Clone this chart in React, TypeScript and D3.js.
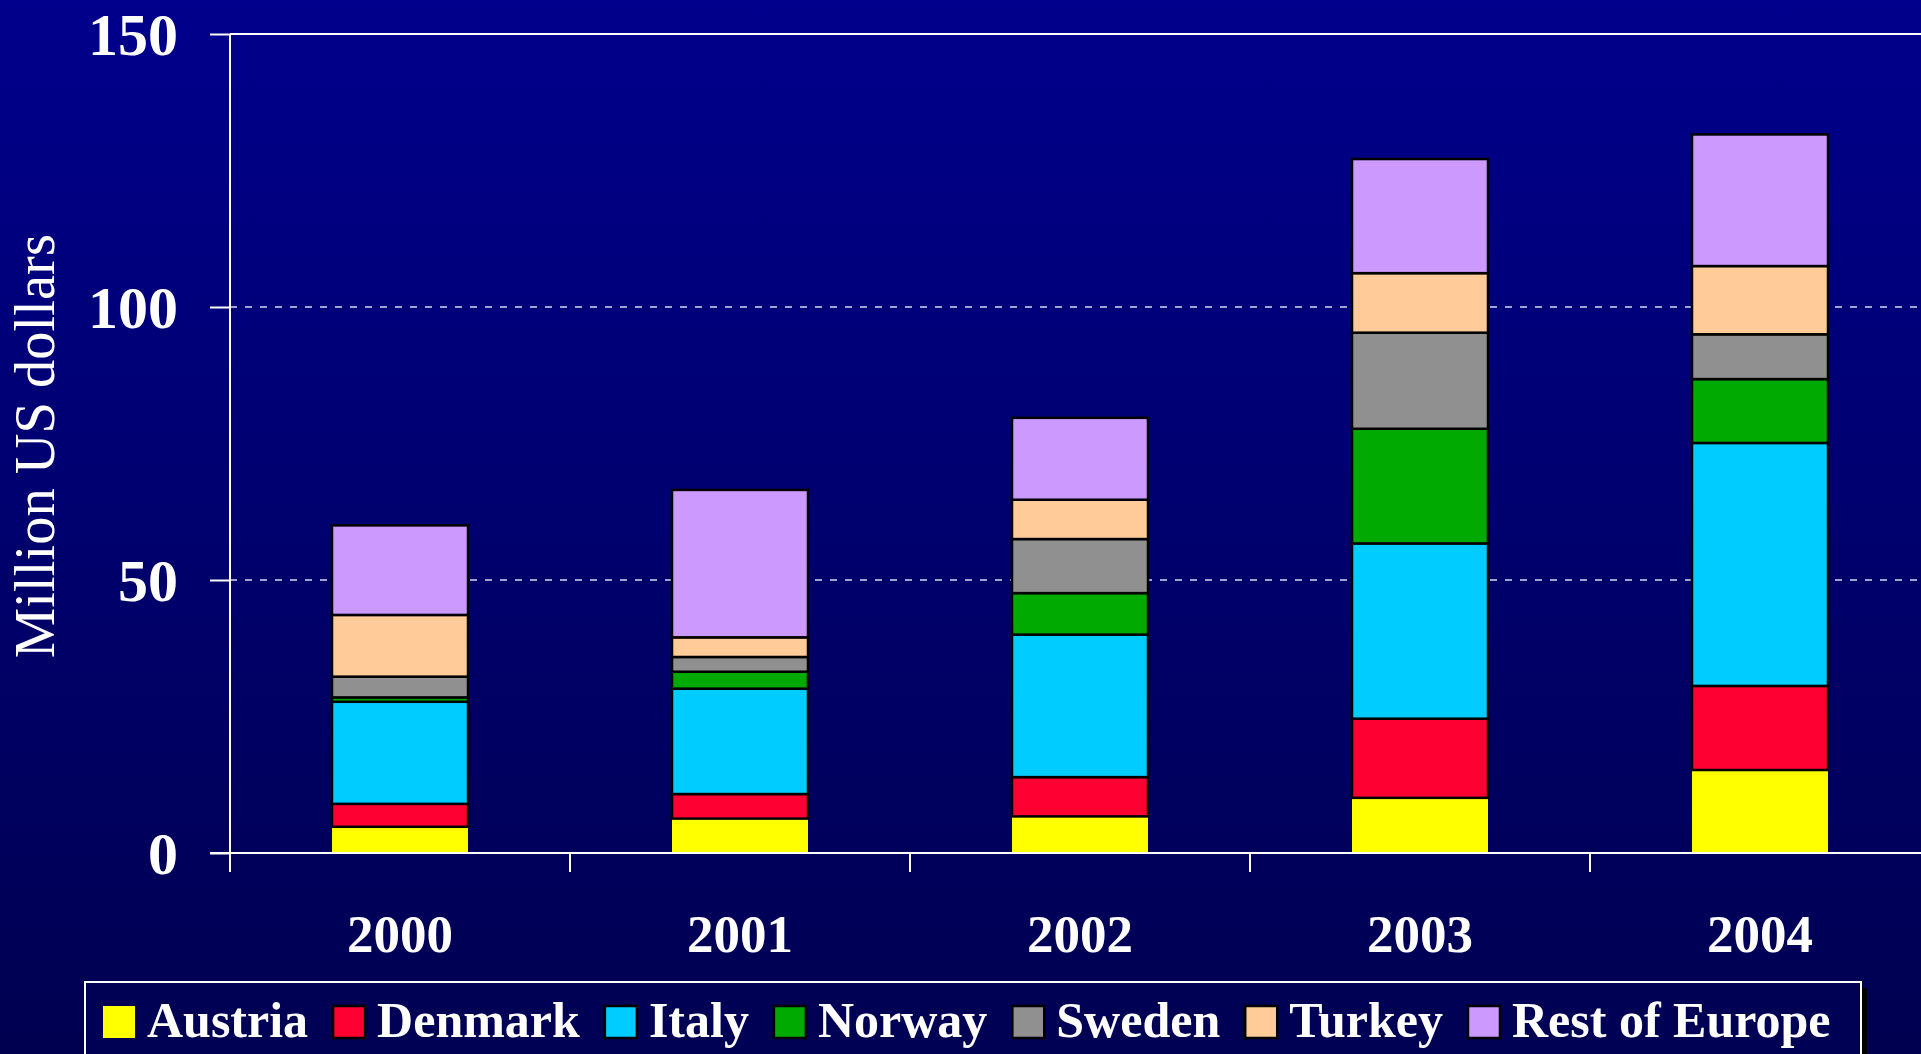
import React, { useEffect, useRef } from "react";
import * as d3 from "d3";

// values (million US dollars)
const years = ["2000", "2001", "2002", "2003", "2004"];
const austria = [4.8, 6.3, 6.7, 10.1, 15.2];
const denmark = [4.2, 4.5, 7.2, 14.5, 15.4];
const italy = [18.7, 19.3, 26.1, 32.1, 44.5];
const norway = [0.8, 3.1, 7.6, 21.0, 11.7];
const sweden = [3.8, 2.7, 9.9, 17.6, 8.2];
const turkey = [11.3, 3.6, 7.2, 10.9, 12.5];
const restOfEurope = [16.4, 27.0, 15.0, 20.9, 24.1];
const seriesNames = ["Austria", "Denmark", "Italy", "Norway", "Sweden", "Turkey", "Rest of Europe"];
const yTicks = [0, 50, 100, 150];

const colors = ["#FFFF00", "#FF0033", "#00CCFF", "#00AA00", "#909090", "#FFCC99", "#CC99FF"];
const outlined = [false, true, true, true, true, true, true];

const W = 1921, H = 1054;
const serif = "'Liberation Serif', 'Times New Roman', Times, serif";

export default function App() {
  const ref = useRef<SVGSVGElement>(null);

  useEffect(() => {
    document.body.style.margin = "0";
    document.body.style.overflow = "hidden";
    const svg = d3.select(ref.current);
    svg.selectAll("*").remove();

    const seriesValues = [austria, denmark, italy, norway, sweden, turkey, restOfEurope];
    const rows = years.map((y, i) => {
      const r: any = { year: y };
      seriesNames.forEach((n, k) => (r[n] = seriesValues[k][i]));
      return r;
    });
    const stacked = d3.stack().keys(seriesNames)(rows);

    const x = d3.scaleBand().domain(years).range([230, 1930]).paddingInner(0.6).paddingOuter(0.3);
    const y = d3.scaleLinear().domain([0, 150]).range([853, 34]);

    // background
    const defs = svg.append("defs");
    const grad = defs.append("linearGradient").attr("id", "bg").attr("x1", 0).attr("y1", 0).attr("x2", 0).attr("y2", 1);
    grad.append("stop").attr("offset", "0%").attr("stop-color", "#00008C");
    grad.append("stop").attr("offset", "100%").attr("stop-color", "#000050");
    svg.append("rect").attr("width", W).attr("height", H).attr("fill", "url(#bg)");

    // dashed gridlines
    svg.selectAll(".grid").data([50, 100]).join("line").attr("class", "grid")
      .attr("x1", 230).attr("x2", W)
      .attr("y1", d => y(d)).attr("y2", d => y(d))
      .attr("stroke", "#d8d8f4").attr("stroke-width", 1.5).attr("stroke-dasharray", "7,8");

    // top line at 150
    svg.append("line").attr("x1", 230).attr("x2", W).attr("y1", y(150)).attr("y2", y(150))
      .attr("stroke", "white").attr("stroke-width", 2);

    // bars
    const g = svg.append("g");
    stacked.forEach((s, k) => {
      g.selectAll(".s" + k).data(s).join("rect")
        .attr("x", (d: any) => x(d.data.year)!)
        .attr("width", x.bandwidth())
        .attr("y", (d: any) => y(d[1]))
        .attr("height", (d: any) => y(d[0]) - y(d[1]))
        .attr("fill", colors[k])
        .attr("stroke", outlined[k] ? "black" : "none")
        .attr("stroke-width", 2.5);
    });

    // y axis
    const yAxis = svg.append("g").attr("transform", "translate(230,0)")
      .call(d3.axisLeft(y).tickValues(yTicks).tickSize(20).tickPadding(32).tickSizeOuter(0));
    yAxis.select(".domain").remove();
    yAxis.selectAll("line").attr("stroke", "white").attr("stroke-width", 2);
    yAxis.selectAll("text").attr("fill", "white").attr("font-family", serif)
      .attr("font-weight", "bold").attr("font-size", 60).attr("dy", "0.34em");
    svg.append("line").attr("x1", 230).attr("x2", 230).attr("y1", y(150)).attr("y2", 872)
      .attr("stroke", "white").attr("stroke-width", 2);

    // x axis
    svg.append("line").attr("x1", 210).attr("x2", W).attr("y1", y(0)).attr("y2", y(0))
      .attr("stroke", "white").attr("stroke-width", 2);
    const boundaries = years.map((_, i) => 230 + i * x.step());
    svg.selectAll(".xt").data(boundaries).join("line").attr("class", "xt")
      .attr("x1", d => d).attr("x2", d => d).attr("y1", y(0)).attr("y2", 872)
      .attr("stroke", "white").attr("stroke-width", 2);
    svg.selectAll(".xl").data(years).join("text").attr("class", "xl")
      .attr("x", d => x(d)! + x.bandwidth() / 2).attr("y", 952)
      .attr("text-anchor", "middle").attr("fill", "white").attr("font-family", serif)
      .attr("font-weight", "bold").attr("font-size", 53).text(d => d);

    // y label
    svg.append("text").attr("transform", "translate(54,446) rotate(-90)")
      .attr("text-anchor", "middle").attr("fill", "white").attr("font-family", serif)
      .attr("font-size", 56.5).text("Million US dollars");

    // legend
    svg.append("rect").attr("x", 91).attr("y", 988).attr("width", 1776).attr("height", 120).attr("fill", "black");
    svg.append("rect").attr("x", 85).attr("y", 982).attr("width", 1776).attr("height", 120)
      .attr("fill", "#000055").attr("stroke", "white").attr("stroke-width", 2);
    let lx = 103;
    seriesNames.forEach((n, k) => {
      svg.append("rect").attr("x", lx).attr("y", 1006).attr("width", 32).attr("height", 32)
        .attr("fill", colors[k]).attr("stroke", outlined[k] ? "black" : "none").attr("stroke-width", 2.5);
      const t = svg.append("text").attr("x", lx + 44).attr("y", 1037).attr("fill", "white")
        .attr("font-family", serif).attr("font-weight", "bold").attr("font-size", 50).text(n);
      const w = (t.node() as SVGTextElement).getComputedTextLength();
      lx += 44 + w + 25;
    });
  }, []);

  return (
    <svg ref={ref} width={W} height={H} style={{ display: "block", position: "absolute", left: 0, top: 0 }} />
  );
}
